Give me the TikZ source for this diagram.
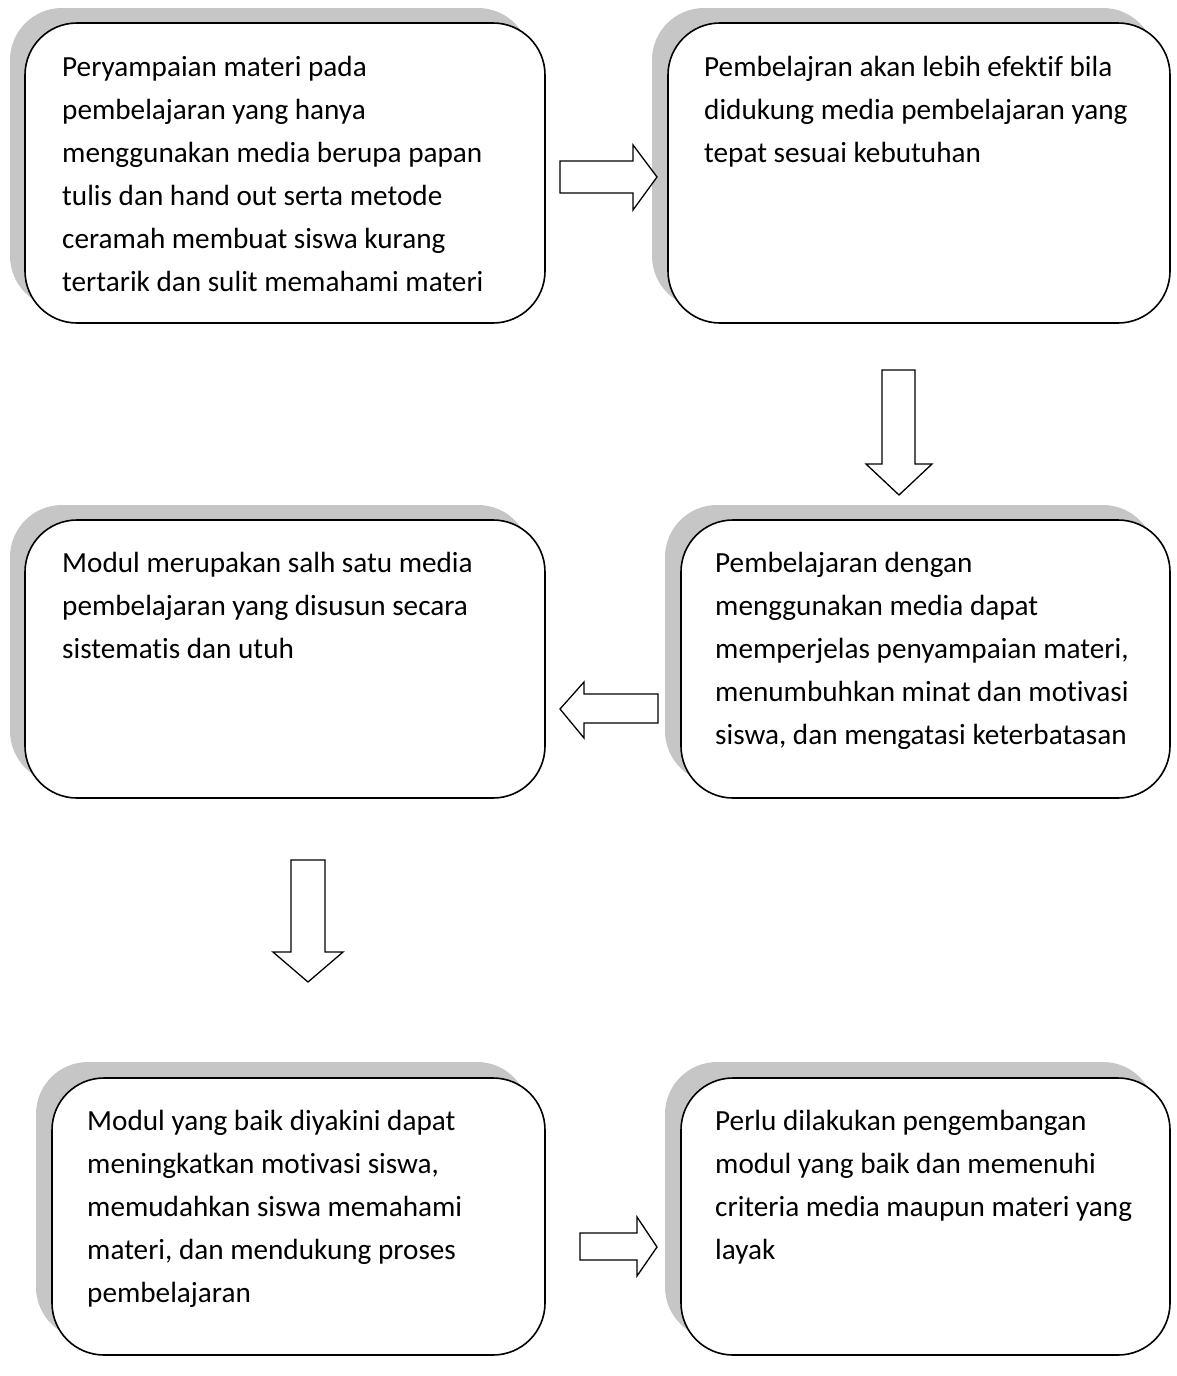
\documentclass[tikz,border=0pt]{standalone}
\usepackage{fontspec}
\setmainfont[Ligatures=NoCommon]{Carlito}
\begin{document}
\begin{tikzpicture}[x=1pt,y=-1pt,
  shadowbox/.style={fill=gray!45, draw=none, rounded corners=52pt},
  cardbox/.style={fill=white, draw=black, line width=1.6pt, rounded corners=52pt},
  blockarrow/.style={draw=black, fill=white, line width=1.3pt, line join=miter},
  cardtext/.style={anchor=base west, inner sep=0pt, font=\fontsize{29.2}{43}\selectfont}]
\useasboundingbox (0,0) rectangle (1177,1376);

% shadows, offset up and to the left
\fill[shadowbox] (10,8) rectangle (530,308);
\fill[shadowbox] (652,8) rectangle (1155,308);
\fill[shadowbox] (10,505) rectangle (530,783);
\fill[shadowbox] (665,505) rectangle (1155,783);
\fill[shadowbox] (36,1062) rectangle (529,1339);
\fill[shadowbox] (665,1062) rectangle (1155,1339);

% cards
\draw[cardbox] (25,23) rectangle (545,323);
\draw[cardbox] (668,23) rectangle (1170,323);
\draw[cardbox] (25,520) rectangle (545,798);
\draw[cardbox] (681,520) rectangle (1170,798);
\draw[cardbox] (52,1078) rectangle (545,1355);
\draw[cardbox] (681,1078) rectangle (1170,1355);

% texts
\node[cardtext] (t1) at (62,76) {\parbox[t]{480pt}{\raggedright
  Peryampaian materi pada\\
  pembelajaran yang hanya\\
  menggunakan media berupa papan\\
  tulis dan hand out serta metode\\
  ceramah membuat siswa kurang\\
  tertarik dan sulit memahami materi}};
\node[cardtext] (t2) at (704,76) {\parbox[t]{470pt}{\raggedright
  Pembelajran akan lebih efektif bila\\
  didukung media pembelajaran yang\\
  tepat sesuai kebutuhan}};
\node[cardtext] (t3) at (62,572) {\parbox[t]{480pt}{\raggedright
  Modul merupakan salh satu media\\
  pembelajaran yang disusun secara\\
  sistematis dan utuh}};
\node[cardtext] (t4) at (715,572) {\parbox[t]{450pt}{\raggedright
  Pembelajaran dengan\\
  menggunakan media dapat\\
  memperjelas penyampaian materi,\\
  menumbuhkan minat dan motivasi\\
  siswa, dan mengatasi keterbatasan}};
\node[cardtext] (t5) at (87,1130) {\parbox[t]{450pt}{\raggedright
  Modul yang baik diyakini dapat\\
  meningkatkan motivasi siswa,\\
  memudahkan siswa memahami\\
  materi, dan mendukung proses\\
  pembelajaran}};
\node[cardtext] (t6) at (715,1130) {\parbox[t]{450pt}{\raggedright
  Perlu dilakukan pengembangan\\
  modul yang baik dan memenuhi\\
  criteria media maupun materi yang\\
  layak}};

% block arrows between the cards
\draw[blockarrow] (560,161) -- (633,161) -- (633,145) -- (657,177) -- (633,210)
  -- (633,193) -- (560,193) -- cycle;
\draw[blockarrow] (882,370) -- (915,370) -- (915,464) -- (932,464) -- (899,495)
  -- (866,464) -- (882,464) -- cycle;
\draw[blockarrow] (658,694) -- (584,694) -- (584,682) -- (560,709) -- (584,738)
  -- (584,723) -- (658,723) -- cycle;
\draw[blockarrow] (291,860) -- (325,860) -- (325,952) -- (343,952) -- (308,982)
  -- (273,952) -- (291,952) -- cycle;
\draw[blockarrow] (580,1233) -- (637,1233) -- (637,1217) -- (657,1247) -- (637,1276)
  -- (637,1260) -- (580,1260) -- cycle;
\end{tikzpicture}
\end{document}
